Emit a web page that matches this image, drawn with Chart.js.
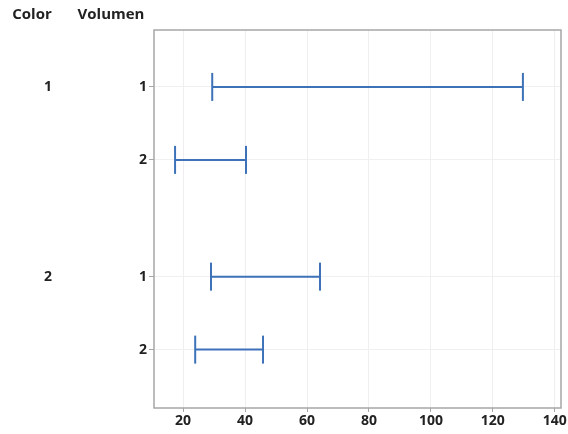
<!DOCTYPE html>
<html>
<head>
<meta charset="utf-8">
<script src="https://cdn.jsdelivr.net/npm/chart.js@4"></script>
<style>
  html, body { margin: 0; padding: 0; background: #fff; }
  #wrap { width: 568px; height: 434px; }
</style>
</head>
<body>
<div id="wrap"><canvas id="chart" width="568" height="434"></canvas></div>
<script>
// Data
const colorGroups = ['1', '1', '2', '2'];
const volumen = ['1', '2', '1', '2'];
const lower = [29.4, 17.4, 29.0, 23.9];
const upper = [129.7, 40.3, 64.2, 45.8];
const xTicks = [20, 40, 60, 80, 100, 120, 140];

const FONT = '"Open Sans", "Noto Sans", sans-serif';
const LINE = '#3d72b9';

// row position on the y scale: extra gap between colour groups
const rowPos = volumen.map((v, i) => 1 + i + (colorGroups[i] === '2' ? 0.6 : 0));

// one line segment per row, separated by null so they don't join
const segData = [];
rowPos.forEach((y, i) => {
    segData.push({ x: lower[i], y: y });
    segData.push({ x: upper[i], y: y });
    segData.push({ x: null, y: null });
});

// frame + header / group labels
const framePlugin = {
    id: 'frame',
    afterDraw(chart) {
        const { ctx, chartArea: a, scales } = chart;
        ctx.save();
        ctx.strokeStyle = '#a6a6a6';
        ctx.lineWidth = 1.5;
        ctx.strokeRect(a.left, a.top, a.right - a.left, a.bottom - a.top);

        ctx.fillStyle = '#222';
        ctx.textAlign = 'center';
        ctx.textBaseline = 'middle';
        ctx.font = 'bold 15px ' + FONT;
        ctx.fillText('Color', 32, 15);
        ctx.fillText('Volumen', 111, 15);

        // group label next to the first row of each group
        ctx.font = 'bold 14px ' + FONT;
        colorGroups.forEach((g, i) => {
            if (i > 0 && colorGroups[i - 1] === g) return;
            ctx.fillText(g, 48, scales.y.getPixelForValue(rowPos[i]));
        });
        ctx.restore();
    }
};

new Chart(document.getElementById('chart'), {
    type: 'scatter',
    data: {
        datasets: [{
            data: segData,
            showLine: true,
            spanGaps: false,
            borderColor: LINE,
            borderWidth: 2,
            pointStyle: 'line',
            pointRotation: 90,
            pointRadius: 14,
            pointBorderColor: LINE,
            pointBorderWidth: 2,
            pointHoverRadius: 14
        }]
    },
    options: {
        responsive: false,
        animation: false,
        layout: { autoPadding: false, padding: { top: 30, right: 7, left: 0, bottom: 0 } },
        plugins: { legend: { display: false }, tooltip: { enabled: false } },
        scales: {
            x: {
                type: 'linear',
                min: 10.6,
                max: 142,
                afterBuildTicks: s => { s.ticks = xTicks.map(v => ({ value: v })); },
                afterFit: s => { s.height = 26; s.paddingLeft = 0; s.paddingRight = 0; },
                grid: { color: '#efefef', tickLength: 4, tickColor: '#a6a6a6' },
                border: { display: false },
                ticks: { color: '#222', font: { family: FONT, size: 14, weight: 'bold' }, padding: 1, maxRotation: 0 }
            },
            y: {
                type: 'linear',
                reverse: true,
                min: 0.22,
                max: 5.4,
                afterBuildTicks: s => { s.ticks = rowPos.map(v => ({ value: v })); },
                afterFit: s => { s.width = 154; s.paddingTop = 0; s.paddingBottom = 0; },
                grid: { color: '#f0f0f0', tickLength: 5, tickColor: '#a6a6a6' },
                border: { display: false },
                ticks: {
                    color: '#222',
                    font: { family: FONT, size: 14, weight: 'bold' },
                    padding: 2,
                    callback: v => {
                        const i = rowPos.indexOf(v);
                        return i >= 0 ? volumen[i] : '';
                    }
                }
            }
        }
    },
    plugins: [framePlugin]
});
</script>
</body>
</html>
